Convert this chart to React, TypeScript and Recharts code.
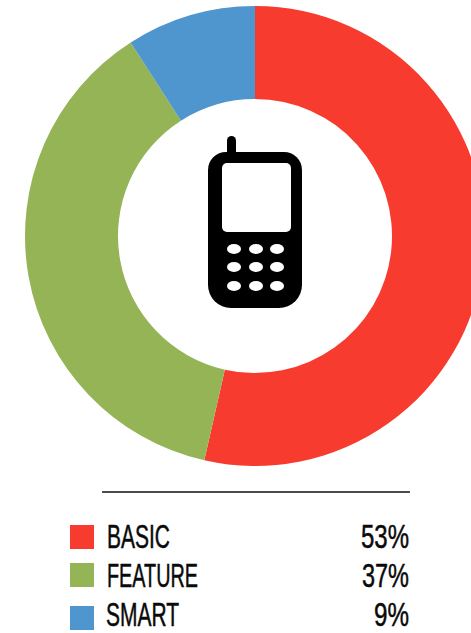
import { PieChart, Pie, Cell } from "recharts";

const CATEGORIES = ["BASIC", "FEATURE", "SMART"];
const SHARES = [53, 37, 9];
const SHARE_LABELS = ["53%", "37%", "9%"];
const COLORS = ["#F73B2E", "#94B455", "#5096CE"];

// text widths for the condensed legend face
const NAME_WIDTHS = [63, 91, 73];
const SHARE_WIDTHS = [48, 47, 35];
const ROW_SWATCH_TOP = [525, 563, 606];
const ROW_BASELINE = [548, 587, 626];

const KEY_ROWS = [249, 267, 286];
const KEY_COLS = [234, 256, 277];

const data = CATEGORIES.map((name, i) => ({ name, value: SHARES[i] }));

function PhoneIcon() {
  return (
    <g>
      <rect x={227} y={136} width={9} height={26} rx={4.5} fill="#000" />
      <path
        d="M226 152 H284 A18 18 0 0 1 302 170 V285 A23 23 0 0 1 279 308 H231 A23 23 0 0 1 208 285 V170 A18 18 0 0 1 226 152 Z"
        fill="#000"
      />
      <rect x={222} y={163} width={69} height={69} rx={5} fill="#fff" />
      {KEY_ROWS.map((cy) =>
        KEY_COLS.map((cx) => <ellipse key={`${cx}-${cy}`} cx={cx} cy={cy} rx={7} ry={5} fill="#fff" />)
      )}
    </g>
  );
}

function LegendTable() {
  const font = {
    fontFamily: "'Liberation Sans Narrow', 'Liberation Sans', sans-serif",
    fontSize: 33,
    fill: "#0a0a0a",
    stroke: "#0a0a0a",
    strokeWidth: 0.5,
  };
  return (
    <g>
      <line x1={102} x2={410} y1={492} y2={492} stroke="#111" strokeWidth={1.5} />
      {CATEGORIES.map((name, i) => (
        <g key={name}>
          <rect x={70} y={ROW_SWATCH_TOP[i]} width={24} height={24} fill={COLORS[i]} />
          <text
            x={name === "SMART" ? 106 : 107}
            y={ROW_BASELINE[i]}
            textLength={NAME_WIDTHS[i]}
            lengthAdjust="spacingAndGlyphs"
            {...font}
          >
            {name}
          </text>
          <text
            x={409 - SHARE_WIDTHS[i]}
            y={ROW_BASELINE[i]}
            textLength={SHARE_WIDTHS[i]}
            lengthAdjust="spacingAndGlyphs"
            {...font}
          >
            {SHARE_LABELS[i]}
          </text>
        </g>
      ))}
    </g>
  );
}

export default function App() {
  return (
    <div style={{ position: "absolute", left: 0, top: 0, width: 471, height: 633, overflow: "hidden", background: "#fff" }}>
      <PieChart width={471} height={633} margin={{ top: 0, right: 0, bottom: 0, left: 0 }}>
        <Pie
          data={data}
          dataKey="value"
          cx={255}
          cy={236}
          innerRadius={137}
          outerRadius={230}
          startAngle={90}
          endAngle={-270}
          stroke="none"
          isAnimationActive={false}
        >
          {data.map((d, i) => (
            <Cell key={d.name} fill={COLORS[i]} stroke="none" />
          ))}
        </Pie>
      </PieChart>
      <svg width={471} height={633} style={{ position: "absolute", left: 0, top: 0 }}>
        <PhoneIcon />
        <LegendTable />
      </svg>
    </div>
  );
}
